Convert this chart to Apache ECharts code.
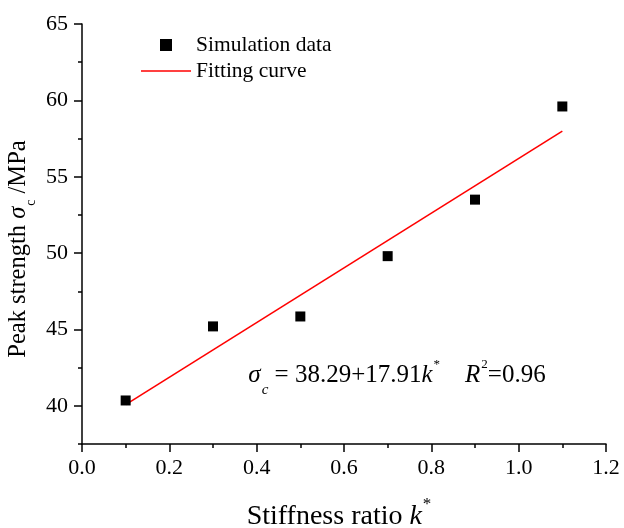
<!DOCTYPE html>
<html>
<head>
<meta charset="utf-8">
<script src="https://cdn.jsdelivr.net/npm/echarts@6/dist/echarts.min.js"></script>
<style>html,body{margin:0;padding:0;background:#fff}#c{width:624px;height:528px}</style>
</head>
<body>
<div id="c"></div>
<script>
var stiffness = [0.1, 0.3, 0.5, 0.7, 0.9, 1.1];
var peakStrength = [40.35, 45.2, 45.85, 49.8, 53.5, 59.6];
var fitX = [0.1, 1.1];
var fitY = [40.08, 57.99];
var yMajorTicks = [40, 45, 50, 55, 60, 65];
var seriesNames = ['Simulation data', 'Fitting curve'];

var FONT = '"Liberation Serif", "Times New Roman", serif';
var chart = echarts.init(document.getElementById('c'));
var rich = {
  s: {fontFamily: FONT, fontStyle: 'italic', fontSize: 25, color: '#000'},
  k: {fontFamily: FONT, fontStyle: 'italic', fontSize: 25, color: '#000'},
  t: {fontFamily: FONT, fontSize: 25, color: '#000'},
  sub: {fontFamily: FONT, fontStyle: 'italic', fontSize: 15, color: '#000', verticalAlign: 'bottom', padding: [0, 0, -10, 1]},
  sup: {fontFamily: FONT, fontSize: 13, color: '#000', verticalAlign: 'top', padding: [-4, 0, 0, 1]}
};
function pairs(xs, ys) { return xs.map(function (x, i) { return [x, ys[i]]; }); }

chart.setOption({
  backgroundColor: '#fff',
  animation: false,
  grid: {left: 82, right: 18, top: 24, bottom: 84, containLabel: false},
  legend: {
    orient: 'vertical', left: 136, top: 29, itemWidth: 50, itemHeight: 12, itemGap: 4,
    symbolKeepAspect: true,
    data: [
      {name: seriesNames[0], icon: 'path://M0,0 L10,0 L10,10 L0,10 Z', itemStyle: {color: '#000', opacity: 1}},
      {name: seriesNames[1], icon: 'path://M0,0 L100,0 L100,3 L0,3 Z', itemStyle: {color: '#ff0000'}}
    ],
    textStyle: {fontFamily: FONT, fontSize: 21.5, color: '#000'}
  },
  xAxis: {
    type: 'value', min: 0, max: 1.2, interval: 0.2,
    axisLine: {lineStyle: {color: '#000', width: 1.5}},
    axisTick: {length: 8, lineStyle: {color: '#000', width: 1.5}},
    minorTick: {show: true, splitNumber: 2, length: 4, lineStyle: {color: '#000', width: 1.5}},
    splitLine: {show: false},
    axisLabel: {margin: 13, fontFamily: FONT, fontSize: 22, color: '#000', formatter: function (v) { return v.toFixed(1); }}
  },
  yAxis: [{
    type: 'value', min: 37.5, max: 65, interval: 2.5,
    axisLine: {show: true, lineStyle: {color: '#000', width: 1.5}},
    axisTick: {show: true, length: 4, lineStyle: {color: '#000', width: 1.5}},
    splitLine: {show: false},
    axisLabel: {show: false}
  }, {
    type: 'value', min: 37.5, max: 65, position: 'left',
    axisLine: {show: false},
    axisTick: {show: true, length: 8, customValues: yMajorTicks, lineStyle: {color: '#000', width: 1.5}},
    splitLine: {show: false},
    axisLabel: {margin: 14, customValues: yMajorTicks, fontFamily: FONT, fontSize: 22, color: '#000'}
  }],
  series: [{
    name: seriesNames[0], type: 'scatter', symbol: 'rect', symbolSize: 10,
    itemStyle: {color: '#000', opacity: 1}, data: pairs(stiffness, peakStrength), z: 3
  }, {
    name: seriesNames[1], type: 'line', showSymbol: false, symbol: 'none',
    lineStyle: {color: '#ff0000', width: 1.6}, itemStyle: {color: '#ff0000'},
    data: pairs(fitX, fitY)
  }],
  graphic: [{
    type: 'text', x: 19, y: 249, rotation: Math.PI / 2,
    style: {text: '{t|Peak strength }{s|σ}{sub|c}{t| /MPa}', rich: {
      t: {fontFamily: FONT, fontSize: 24.5, color: '#000'},
      s: {fontFamily: FONT, fontStyle: 'italic', fontSize: 24.5, color: '#000'},
      sub: {fontFamily: FONT, fontSize: 14, color: '#000', verticalAlign: 'bottom', padding: [0, 0, -7, 1]}
    }, align: 'center', verticalAlign: 'middle'}
  }, {
    type: 'text', x: 339, y: 517,
    style: {text: '{t|Stiffness ratio }{k|k}{sup|*}', rich: {
      t: {fontFamily: FONT, fontSize: 28, color: '#000'},
      k: {fontFamily: FONT, fontStyle: 'italic', fontSize: 28, color: '#000'},
      sup: {fontFamily: FONT, fontSize: 17, color: '#000', verticalAlign: 'top', padding: [-7, 0, 0, 1]}
    }, align: 'center', verticalAlign: 'middle'}
  }, {
    type: 'text', x: 397, y: 375,
    style: {text: '{s|σ}{sub|c}{t| = 38.29+17.91}{k|k}{sup|*}{t|    }{k|R}{sup|2}{t|=0.96}', rich: rich, align: 'center', verticalAlign: 'middle'}
  }]
});
</script>
</body>
</html>
